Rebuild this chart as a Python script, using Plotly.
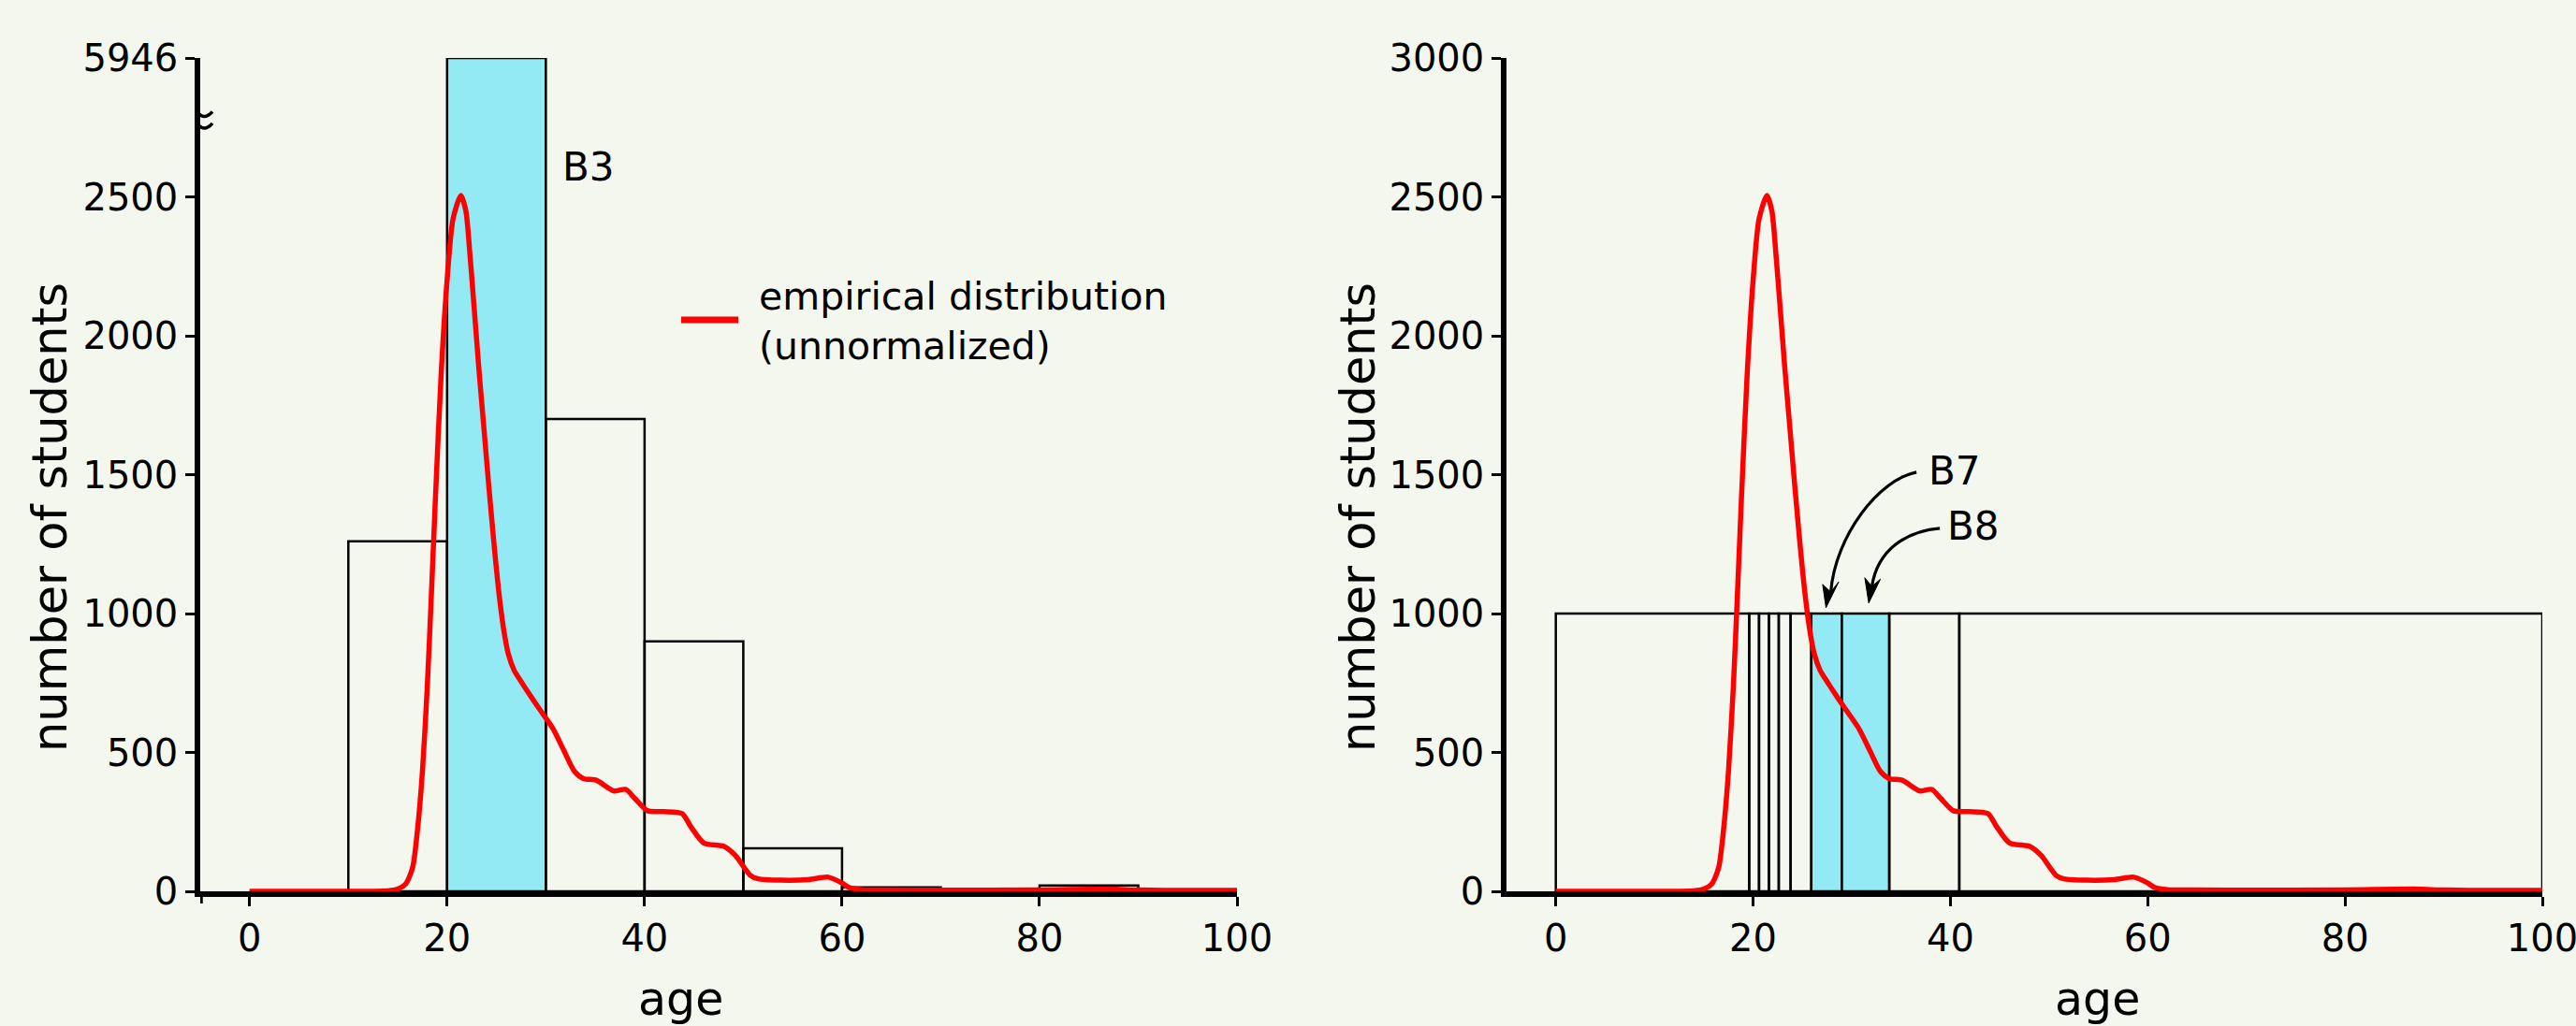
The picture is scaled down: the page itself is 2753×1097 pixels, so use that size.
import plotly.graph_objects as go

# ---------------- data ----------------
LEFT_EDGES = [0, 10, 20, 30, 40, 50, 60, 70, 80, 90, 100]
LEFT_COUNTS = [0, 1260, 5946, 1700, 900, 155, 14, 9, 21, 0]
LEFT_LABELS = ["", "", "B3", "", "", "", "", "", "", ""]

RIGHT_EDGES = [0, 19.6, 20.6, 21.6, 22.6, 23.8, 25.9, 29.0, 33.8, 40.9, 100]
RIGHT_COUNTS = [1000, 1000, 1000, 1000, 1000, 1000, 1000, 1000, 1000, 1000]
RIGHT_LABELS = ["", "", "", "", "", "", "B7", "B8", "", ""]

CURVE_AGE = [0, 10, 14, 15, 15.8, 16.5, 17.0, 17.5, 18.0, 18.4, 18.8, 19.4, 20.0, 20.6,
             21.4, 21.9, 22.3, 22.7, 23.2, 23.7, 24.2, 24.7, 25.2, 25.7, 26.2,
             26.8, 27.5, 28.1, 29.2, 30.7, 31.8, 32.9, 33.8, 35.1, 36.2, 36.9,
             38.1, 39.0, 40.3, 41.9, 43.8, 44.7, 46.0, 48.1, 49.2, 50.7, 51.5,
             53.8, 56.6, 58.6, 60.0, 60.7, 62, 65, 70, 80, 87, 90, 95, 100]
CURVE_COUNT = [0, 0, 2, 8, 26, 84, 220, 430, 740, 1060, 1400, 1863, 2200, 2420,
               2505, 2450, 2300, 2120, 1890, 1680, 1470, 1270, 1090, 950, 855,
               795, 755, 722, 664, 587, 509, 432, 406, 400, 375, 361,
               367, 335, 290, 287, 280, 232, 174, 161, 129, 58, 45,
               40, 42, 51, 30, 14, 6, 5, 4, 5, 8, 5, 3, 3]

X_TICKS = [0, 20, 40, 60, 80, 100]
Y_TICKS = [0, 500, 1000, 1500, 2000, 2500, 3000]
BREAK_CAP = 3000          # top of the broken left axis
LEGEND_TEXT = "empirical distribution<br>(unnormalized)"

# ---------------- style ----------------
W, H = 2753, 1097
BG = "#f4f7ee"
CYAN = "#93eaf5"
FONT = "DejaVu Sans"
TICK_SIZE = 40
TITLE_SIZE = 51


def px(x):
    return x / W


def py(y):
    return 1 - y / H


def bins(edges):
    centers = [(a + b) / 2 for a, b in zip(edges[:-1], edges[1:])]
    widths = [b - a for a, b in zip(edges[:-1], edges[1:])]
    return centers, widths


fig = go.Figure()

# left histogram (broken axis: values above the cap drawn at the cap)
lc, lw = bins(LEFT_EDGES)
left_disp = [min(v, BREAK_CAP) for v in LEFT_COUNTS]
fig.add_trace(go.Bar(
    x=lc, y=left_disp, width=lw, xaxis="x", yaxis="y",
    marker=dict(color=[CYAN if l else "rgba(0,0,0,0)" for l in LEFT_LABELS],
                line=dict(color="black", width=2.5)),
    customdata=LEFT_COUNTS, hovertemplate="%{customdata}<extra></extra>",
    showlegend=False))
fig.add_trace(go.Scatter(
    x=CURVE_AGE, y=CURVE_COUNT, mode="lines", xaxis="x", yaxis="y",
    line=dict(color="#ff0000", width=5.5, shape="spline", smoothing=0.7),
    name="empirical distribution (unnormalized)", showlegend=False))

# right histogram
rc, rw = bins(RIGHT_EDGES)
fig.add_trace(go.Bar(
    x=rc, y=RIGHT_COUNTS, width=rw, xaxis="x2", yaxis="y2",
    marker=dict(color=[CYAN if l else "rgba(0,0,0,0)" for l in RIGHT_LABELS],
                line=dict(color="black", width=2.5)),
    showlegend=False))
fig.add_trace(go.Scatter(
    x=CURVE_AGE, y=CURVE_COUNT, mode="lines", xaxis="x2", yaxis="y2",
    line=dict(color="#ff0000", width=5.5, shape="spline", smoothing=0.7),
    showlegend=False))

ydom = [py(953), py(62)]
axis_common = dict(showline=True, linecolor="black", linewidth=5.5, automargin=False,
                   ticks="outside", ticklen=10, tickwidth=2.5, tickcolor="black",
                   showgrid=False, zeroline=False, ticklabeloverflow="allow",
                   tickfont=dict(family=FONT, size=TICK_SIZE, color="black"))

left_ytext = [str(v) for v in Y_TICKS[:-1]] + [str(max(LEFT_COUNTS))]

fig.update_layout(
    width=W, height=H, autosize=False,
    margin=dict(l=0, r=0, t=0, b=0),
    paper_bgcolor=BG, plot_bgcolor=BG,
    font=dict(family=FONT, color="black"),
    barmode="overlay",
    xaxis=dict(domain=[px(214), px(1322)], range=[-5, 100], anchor="y",
               tickvals=X_TICKS, **axis_common),
    yaxis=dict(domain=ydom, range=[0, BREAK_CAP], anchor="x",
               tickvals=Y_TICKS, ticktext=left_ytext, **axis_common),
    xaxis2=dict(domain=[px(1610), px(2717)], range=[-5, 100], anchor="y2",
                tickvals=X_TICKS, **axis_common),
    yaxis2=dict(domain=ydom, range=[0, 3000], anchor="x2",
                tickvals=Y_TICKS, **axis_common),
)

shapes = []
# left y-axis extends a little below the x-axis
shapes.append(dict(type="line", xref="x", yref="y domain", x0=-5, x1=-5,
                   y0=-0.0146, y1=0, line=dict(color="black", width=5.5)))
# axis break on the left y-axis
BREAK_Y = 2773
shapes.append(dict(type="rect", xref="x", yref="y", xsizemode="pixel", ysizemode="pixel",
                   xanchor=-5, yanchor=BREAK_Y, x0=-5, x1=5, y0=-6, y1=5,
                   fillcolor=BG, line=dict(width=0), layer="above"))
for dy in (0, -12.5):
    shapes.append(dict(type="path", xref="x", yref="y", xsizemode="pixel", ysizemode="pixel",
                       xanchor=-5, yanchor=BREAK_Y,
                       path=(f"M -13,{1.5+dy} Q -6,{11+dy} 0,{6.5+dy} "
                             f"Q 6,{2+dy} 13,{10+dy}"),
                       line=dict(color="black", width=3.5), layer="above"))

# curved arrows to B7 and B8 (right panel, data coordinates)
arrows = [
    dict(curve="M 36.56,1509 C 32.73,1482 28.34,1280 27.87,1077", tip=(27.39, 1021),
         head="M 0,0 L -3.6,25 L 5,16.7 L 13.5,27.5 Z"),
    dict(curve="M 38.93,1307 C 35.61,1297 32.61,1232 32.04,1097", tip=(31.72, 1038),
         head="M 0,0 L -4.2,27 L 3.4,17.7 L 12.5,25.5 Z"),
]
for a in arrows:
    shapes.append(dict(type="path", xref="x2", yref="y2", path=a["curve"],
                       line=dict(color="black", width=3.2)))
    shapes.append(dict(type="path", xref="x2", yref="y2", xsizemode="pixel", ysizemode="pixel",
                       xanchor=a["tip"][0], yanchor=a["tip"][1], path=a["head"],
                       fillcolor="black", line=dict(color="black", width=1)))

# legend sample line
shapes.append(dict(type="line", xref="paper", yref="paper", x0=px(728), x1=px(789),
                   y0=py(342), y1=py(342), line=dict(color="#ff0000", width=7)))
fig.update_layout(shapes=shapes)

ann = []
lab_font = dict(family=FONT, size=42, color="black")
# bin labels
for i, l in enumerate(LEFT_LABELS):
    if l:
        ann.append(dict(x=LEFT_EDGES[i + 1], y=2608, xref="x", yref="y", text=l,
                        showarrow=False, xanchor="left", yanchor="middle", xshift=16,
                        font=lab_font))
r_label_pos = {"B7": (37.6, 1512), "B8": (39.45, 1314)}
for l in RIGHT_LABELS:
    if l:
        ann.append(dict(x=r_label_pos[l][0], y=r_label_pos[l][1], xref="x2", yref="y2",
                        text=l, showarrow=False, xanchor="left", yanchor="middle",
                        font=lab_font))
# legend text
ann.append(dict(x=px(809), y=py(343), xref="paper", yref="paper", text=LEGEND_TEXT,
                showarrow=False, xanchor="left", yanchor="middle", align="left",
                font=dict(family=FONT, size=41, color="black")))
# axis titles
tfont = dict(family=FONT, size=TITLE_SIZE, color="black")
for xc in (53, 1451):
    ann.append(dict(x=px(xc), y=py(553), xref="paper", yref="paper", text="number of students",
                    textangle=-90, showarrow=False, xanchor="center", yanchor="middle", font=tfont))
for xc in (727, 2241):
    ann.append(dict(x=px(xc), y=py(1068), xref="paper", yref="paper", text="age",
                    showarrow=False, xanchor="center", yanchor="middle",
                    font=dict(family=FONT, size=49, color="black")))
fig.update_layout(annotations=ann)

fig.write_html("out.html", config={"displayModeBar": False},
               post_script="document.body.style.margin='0';"
                           "document.body.style.background='" + BG + "';")
